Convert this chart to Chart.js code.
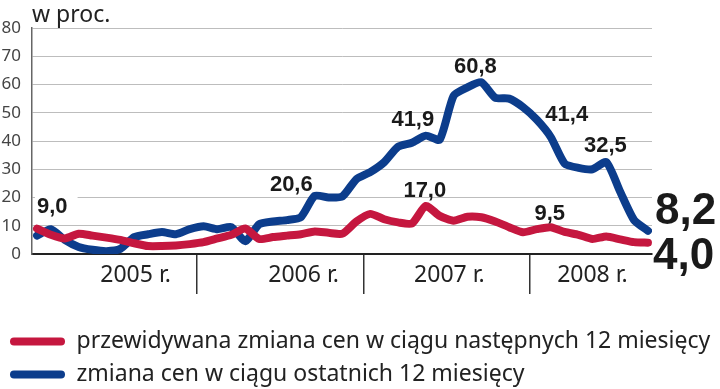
<!DOCTYPE html>
<html>
<head>
<meta charset="utf-8">
<script src="https://cdn.jsdelivr.net/npm/chart.js@4.4.1/dist/chart.umd.min.js"></script>
<style>
  html, body { margin: 0; padding: 0; background: #fff; overflow: hidden; }
  #frame { width: 720px; height: 389px; overflow: hidden; }
  #wrap { width: 720px; height: 396px; position: relative; }
</style>
</head>
<body>
<div id="frame"><div id="wrap"><canvas id="chart"></canvas></div></div>
<script>
// monthly survey points, Jan 2005 - Sep 2008
const months = [
    '2005-01', '2005-02', '2005-03', '2005-04', '2005-05', '2005-06', '2005-07', '2005-08', '2005-09', '2005-10', '2005-11', '2005-12',
    '2006-01', '2006-02', '2006-03', '2006-04', '2006-05', '2006-06', '2006-07', '2006-08', '2006-09', '2006-10', '2006-11', '2006-12',
    '2007-01', '2007-02', '2007-03', '2007-04', '2007-05', '2007-06', '2007-07', '2007-08', '2007-09', '2007-10', '2007-11', '2007-12',
    '2008-01', '2008-02', '2008-03', '2008-04', '2008-05', '2008-06', '2008-07', '2008-08', '2008-09'
];
const years = ['2005 r.', '2006 r.', '2007 r.', '2008 r.'];
const yTicks = [0, 10, 20, 30, 40, 50, 60, 70, 80];

// przewidywana zmiana cen (next 12 months)
const expected = [
    9.0, 6.8, 5.5, 7.2, 6.5, 5.8, 5.0, 3.8, 2.8, 2.8, 3.0, 3.5,
    4.2, 5.5, 6.8, 9.0, 5.3, 6.0, 6.5, 7.0, 8.0, 7.5, 7.2, 11.5,
    14.2, 12.3, 11.2, 10.8, 17.0, 13.5, 11.8, 13.2, 13.0, 11.5, 9.5, 7.7,
    8.8, 9.5, 7.8, 6.8, 5.3, 6.2, 5.2, 4.2, 4.0
];
// zmiana cen (last 12 months)
const past = [
    6.5, 8.8, 5.0, 2.5, 1.5, 1.0, 1.8, 6.0, 7.0, 7.8, 7.0, 8.8,
    9.8, 8.8, 9.5, 4.5, 10.5, 11.5, 12.0, 13.0, 20.6, 20.0, 20.4, 26.5,
    29.0, 32.5, 38.0, 39.4, 41.9, 40.5, 56.0, 59.0, 60.8, 55.3, 55.0, 52.0,
    47.5, 41.4, 32.0, 30.5, 30.0, 32.5, 22.0, 12.0, 8.2
];
const seriesNames = [
    'przewidywana zmiana cen w ciągu następnych 12 miesięcy',
    'zmiana cen w ciągu ostatnich 12 miesięcy'
];

const RED = '#c5173f';
const BLUE = '#0c3d8c';
const X_MIN = -0.36, X_MAX = 44.29;

// year separators sit between December and January
const separators = years.slice(1).map((y, j) => 12 * (j + 1) - 0.5);
// the year captions are not centred in their spans in the original
const yearLabelAt = [7.1, 19.2, 29.7, 40.0];

// which points get a value label, and where the label sits
const callouts = [
    { ds: 0, i: 0,  dx: 0,   dy: -16, align: 'left',   size: 22, bg: true },
    { ds: 1, i: 20, dx: -2,  dy: -5,  align: 'right',  size: 22 },
    { ds: 1, i: 28, dx: -13, dy: -10, align: 'center', size: 22 },
    { ds: 1, i: 32, dx: -6,  dy: -9,  align: 'center', size: 22 },
    { ds: 1, i: 37, dx: 16,  dy: -16, align: 'center', size: 22 },
    { ds: 1, i: 41, dx: -1,  dy: -10, align: 'center', size: 22 },
    { ds: 0, i: 28, dx: -1,  dy: -9,  align: 'center', size: 22 },
    { ds: 0, i: 37, dx: -1,  dy: -7,  align: 'center', size: 22 },
    { ds: 1, i: 44, dx: 7,   dy: -7,  align: 'left',   size: 44 },
    { ds: 0, i: 44, dx: 5,   dy: 26,  align: 'left',   size: 44 }
];

const calloutPlugin = {
    id: 'callouts',
    afterDatasetsDraw(chart) {
        const c = chart.ctx;
        c.save();
        callouts.forEach(o => {
            const pt = chart.getDatasetMeta(o.ds).data[o.i];
            const value = chart.data.datasets[o.ds].data[o.i].y;
            const text = value.toFixed(1).replace('.', ',');
            c.font = 'bold ' + o.size + 'px "Liberation Sans", Arial, sans-serif';
            c.textAlign = o.align;
            c.textBaseline = 'alphabetic';
            const x = pt.x + o.dx;
            const y = pt.y + o.dy;
            if (o.bg) {
                const w = c.measureText(text).width;
                c.fillStyle = '#fff';
                c.fillRect(x - 2, y - o.size * 0.82, w + 12, o.size);
            }
            c.fillStyle = '#1a1a1a';
            c.fillText(text, x, y);
        });
        c.restore();
    }
};

const toPoints = arr => arr.map((v, i) => ({ x: i, y: v }));

let ctx = document.getElementById('chart').getContext('2d');
let chart = new Chart(ctx, {
    type: 'line',
    data: {
        labels: months,
        datasets: [
            {
                label: seriesNames[0],
                data: toPoints(expected),
                borderColor: RED,
                backgroundColor: RED,
                borderWidth: 8,
                pointRadius: 0,
                tension: 0.2,
                borderCapStyle: 'round',
                borderJoinStyle: 'round'
            },
            {
                label: seriesNames[1],
                data: toPoints(past),
                borderColor: BLUE,
                backgroundColor: BLUE,
                borderWidth: 8,
                pointRadius: 0,
                tension: 0.2,
                borderCapStyle: 'round',
                borderJoinStyle: 'round'
            }
        ]
    },
    options: {
        responsive: true,
        maintainAspectRatio: false,
        animation: false,
        layout: { padding: 0 },
        scales: {
            x: {
                type: 'linear',
                min: X_MIN,
                max: X_MAX,
                afterBuildTicks: axis => {
                    axis.ticks = yearLabelAt.concat(separators).map(v => ({ value: v }));
                },
                afterFit: axis => { axis.height = 66; },
                grid: {
                    drawOnChartArea: false,
                    drawTicks: true,
                    tickLength: 40,
                    lineWidth: 1.5,
                    color: c => separators.includes(c.tick.value) ? '#333' : 'rgba(0,0,0,0)'
                },
                border: { display: true, color: '#222', width: 2 },
                ticks: {
                    autoSkip: false,
                    maxRotation: 0,
                    padding: -32,
                    color: '#222',
                    font: { family: 'Noto Sans', size: 23 },
                    callback: v => {
                        const j = yearLabelAt.indexOf(v);
                        return j >= 0 ? years[j] : '';
                    }
                }
            },
            y: {
                min: 0,
                max: 80,
                afterBuildTicks: axis => {
                    axis.ticks = yTicks.map(v => ({ value: v }));
                },
                afterFit: axis => { axis.width = 32; },
                grid: { color: '#bdbdbd', lineWidth: 1, drawTicks: false },
                border: { display: true, color: '#666', width: 1.5 },
                ticks: {
                    padding: 11,
                    color: '#444',
                    font: { family: 'Noto Sans', size: 17 }
                }
            },
            // empty right-hand strip that holds the 8,2 / 4,0 end values
            gutter: {
                type: 'linear',
                position: 'right',
                display: true,
                afterFit: axis => { axis.width = 68; },
                grid: { display: false },
                border: { display: false },
                ticks: { display: false }
            }
        },
        plugins: {
            title: {
                display: true,
                text: 'w proc.',
                align: 'start',
                fullSize: false,
                color: '#222',
                font: { family: 'Noto Sans', size: 23, weight: 'normal', lineHeight: 1 },
                padding: { top: 4, bottom: 1 }
            },
            legend: {
                position: 'bottom',
                align: 'start',
                labels: {
                    boxWidth: 55,
                    boxHeight: 8,
                    useBorderRadius: true,
                    borderRadius: 4,
                    padding: 10,
                    color: '#222',
                    font: { family: 'Noto Sans', size: 23 },
                    generateLabels: chart =>
                        Chart.defaults.plugins.legend.labels.generateLabels(chart)
                            .map(l => Object.assign(l, { lineWidth: 0 }))
                }
            },
            tooltip: { enabled: false }
        }
    },
    plugins: [calloutPlugin]
});
</script>
</body>
</html>
